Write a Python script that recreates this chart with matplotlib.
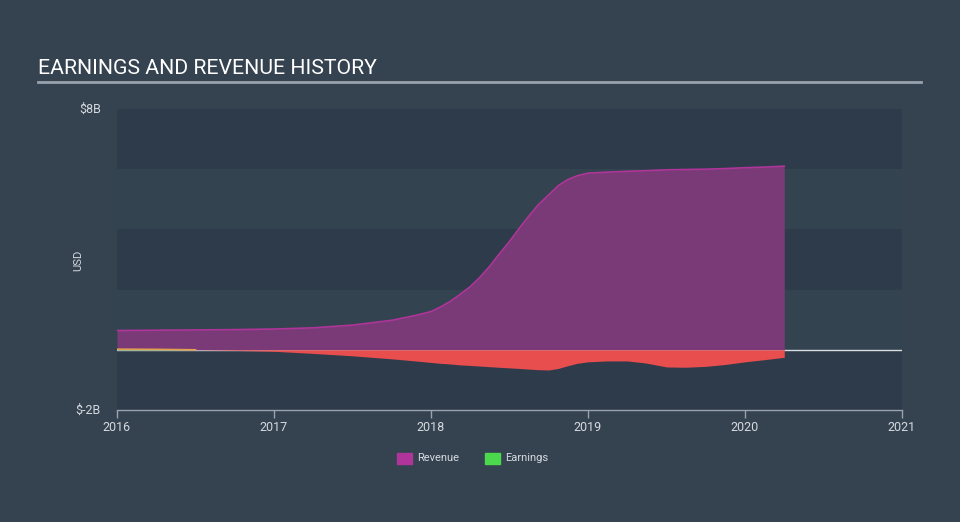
import matplotlib
matplotlib.use("Agg")
import matplotlib.pyplot as plt
import numpy as np
from matplotlib.patches import Rectangle
from matplotlib.lines import Line2D

years = [2016.0, 2016.25, 2016.5, 2016.75, 2017.0, 2017.25, 2017.5, 2017.75, 2017.9, 2018.0,
         2018.06, 2018.12, 2018.18, 2018.25, 2018.31, 2018.37, 2018.43, 2018.5, 2018.56,
         2018.62, 2018.68, 2018.75, 2018.81, 2018.87, 2018.93, 2019.0,
         2019.12, 2019.25, 2019.37, 2019.5, 2019.62, 2019.75, 2019.87, 2020.0, 2020.12, 2020.25]
revenue = [0.64, 0.65, 0.66, 0.67, 0.69, 0.73, 0.82, 0.98, 1.14, 1.27,
           1.42, 1.6, 1.82, 2.1, 2.4, 2.75, 3.15, 3.6, 4.02,
           4.42, 4.8, 5.15, 5.45, 5.65, 5.78, 5.87,
           5.9, 5.93, 5.95, 5.98, 5.99, 6.0, 6.02, 6.05, 6.07, 6.1]
earnings = [0.02, 0.015, 0.0, -0.02, -0.05, -0.12, -0.2, -0.3, -0.37, -0.42,
            -0.45, -0.47, -0.5, -0.52, -0.54, -0.56, -0.58, -0.6, -0.62,
            -0.64, -0.66, -0.67, -0.62, -0.53, -0.45, -0.4,
            -0.37, -0.37, -0.44, -0.57, -0.58, -0.55, -0.49, -0.4, -0.33, -0.25]
x_ticks = [2016, 2017, 2018, 2019, 2020, 2021]
y_min, y_max = -2, 8

BG = '#35424f'
fig = plt.figure(figsize=(9.6, 5.22), dpi=100, facecolor=BG)
ax = fig.add_axes([117/960, 1-410/522, (902-117)/960, (410-109)/522])
ax.set_facecolor(BG)
ax.set_xlim(2016, 2021)
ax.set_ylim(y_min, y_max)

# bands
for i, b in enumerate(range(y_min, y_max, 2)):
    col = '#2e3b4a' if i % 2 == 0 else '#344350'
    ax.axhspan(b, b + 2, color=col, zorder=0, lw=0)

ax.axhline(0, color='#d8dde2', lw=1, zorder=1)

x = np.array(years)
r = np.array(revenue)
e = np.array(earnings)
ax.fill_between(x, 0, r, color='#7a3a77', lw=0, zorder=2)
ax.plot(x, r, color='#b0359a', lw=1.2, zorder=3)
ax.fill_between(x, 0, e, where=e <= 0, interpolate=True, color='#e84e4e', lw=0, zorder=2)
ax.fill_between(x, 0, e, where=e >= 0, interpolate=True, color='#4cd84c', lw=0, zorder=2)
ax.plot(x, np.where(e >= 0, e, np.nan), color='#e0a050', lw=1.2, zorder=3)

for s in ['top', 'right', 'left']:
    ax.spines[s].set_visible(False)
ax.spines['bottom'].set_color('#9aa4ae')
ax.spines['bottom'].set_linewidth(1)
ax.set_xticks(x_ticks)
ax.set_xticklabels([str(t) for t in x_ticks])
ax.tick_params(axis='x', colors='#9aa4ae', labelcolor='#d5dae0', length=6, width=1,
               labelsize=9, pad=2)
ax.set_yticks([])

fam = ['Roboto', 'DejaVu Sans']
for lab in ax.get_xticklabels():
    lab.set_family(fam)

fig.text(101/960, 1-109/522, '$8B', ha='right', va='center', color='#d5dae0',
         fontsize=9, family=fam)
fig.text(101/960, 1-410/522, '$-2B', ha='right', va='center', color='#d5dae0',
         fontsize=9, family=fam)
fig.text(78/960, 1-260/522, 'USD', ha='center', va='center', rotation=90,
         color='#d5dae0', fontsize=8, family=fam)

fig.text(38/960, 1-68/522, 'EARNINGS AND REVENUE HISTORY', ha='left', va='center',
         color='#ffffff', fontsize=15.3, family=fam)
fig.add_artist(Line2D([38/960, 921/960], [1-82/522, 1-82/522], color='#9aa3ad', lw=2,
                      transform=fig.transFigure))

# legend
fig.add_artist(Rectangle((397/960, 1-464/522), 15/960, 11/522, color='#b0359a',
                         transform=fig.transFigure))
fig.text(417/960, 1-458/522, 'Revenue', ha='left', va='center', color='#d5dae0',
         fontsize=8, family=fam)
fig.add_artist(Rectangle((485/960, 1-464/522), 15/960, 11/522, color='#4cd84c',
                         transform=fig.transFigure))
fig.text(505/960, 1-458/522, 'Earnings', ha='left', va='center', color='#d5dae0',
         fontsize=8, family=fam)

fig.savefig('out.png', dpi=100, facecolor=BG)
